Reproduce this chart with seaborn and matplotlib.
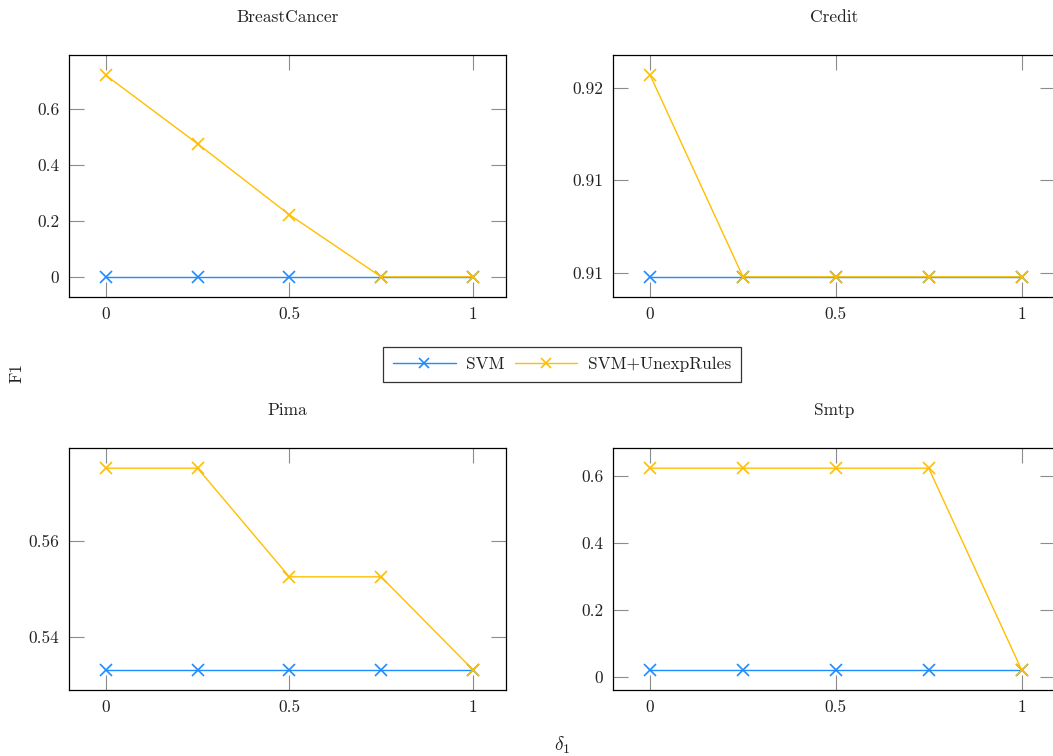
import matplotlib
matplotlib.use("Agg")
import matplotlib.pyplot as plt
import numpy as np
import pandas as pd
import seaborn as sns

# delta_1 values and F1 scores
delta = [0, 0.25, 0.5, 0.75, 1]
methods = ["SVM", "SVM+UnexpRules"]
datasets = ["BreastCancer", "Credit", "Pima", "Smtp"]

breast_svm = [0.0, 0.0, 0.0, 0.0, 0.0]
breast_rules = [0.721, 0.476, 0.222, 0.0, 0.0]
credit_svm = [0.90977, 0.90977, 0.90977, 0.90977, 0.90977]
credit_rules = [0.92067, 0.90977, 0.90977, 0.90977, 0.90977]
pima_svm = [0.53325, 0.53325, 0.53325, 0.53325, 0.53325]
pima_rules = [0.5751, 0.5751, 0.55255, 0.55255, 0.53325]
smtp_svm = [0.0208, 0.0208, 0.0208, 0.0208, 0.0208]
smtp_rules = [0.623, 0.623, 0.623, 0.623, 0.0208]

yticks = {
    "BreastCancer": ([0, 0.2, 0.4, 0.6], ["0", "0.2", "0.4", "0.6"]),
    "Credit": ([0.91, 0.915, 0.92], ["0.91", "0.91", "0.92"]),
    "Pima": ([0.54, 0.56], ["0.54", "0.56"]),
    "Smtp": ([0, 0.2, 0.4, 0.6], ["0", "0.2", "0.4", "0.6"]),
}
xticks = [0, 0.5, 1]
xticklabels = ["0", "0.5", "1"]

series = {
    "BreastCancer": (breast_svm, breast_rules),
    "Credit": (credit_svm, credit_rules),
    "Pima": (pima_svm, pima_rules),
    "Smtp": (smtp_svm, smtp_rules),
}
rows = []
for name, (svm, rules) in series.items():
    for d, a, b in zip(delta, svm, rules):
        rows.append((name, "SVM", d, a))
        rows.append((name, "SVM+UnexpRules", d, b))
df = pd.DataFrame(rows, columns=["dataset", "method", "delta", "f1"])

sns.set_theme(style="white")
plt.rcParams["font.family"] = ["cmr10", "DejaVu Serif"]
plt.rcParams["mathtext.fontset"] = "cm"
plt.rcParams["axes.unicode_minus"] = False
plt.rcParams["axes.formatter.use_mathtext"] = True

palette = {"SVM": "#1e8cff", "SVM+UnexpRules": "#ffbf00"}
FS = 12.5
TXT = "#222222"

W, H = 1053, 756
fig = plt.figure(figsize=(W / 100, H / 100), dpi=100)

# axes boxes in pixels: left, top, right, bottom
boxes = {
    "BreastCancer": (69, 55, 506, 297),
    "Credit": (613, 55, 1055, 297),
    "Pima": (69, 448, 506, 690),
    "Smtp": (613, 448, 1055, 690),
}

for name in datasets:
    l, t, r, b = boxes[name]
    ax = fig.add_axes([l / W, 1 - b / H, (r - l) / W, (b - t) / H])
    sub = df[df["dataset"] == name]
    for m in methods:
        part = sub[sub["method"] == m]
        sns.lineplot(data=part, x="delta", y="f1", color=palette[m],
                     marker="x", markersize=8, markeredgewidth=1.2,
                     markeredgecolor=palette[m], linewidth=1.0, ax=ax)
    vals = sub["f1"]
    lo, hi = vals.min(), vals.max()
    pad = 0.1 * (hi - lo)
    ax.set_ylim(lo - pad, hi + pad)
    ax.set_xlim(-0.1, 1.09)
    ax.set_xticks(xticks)
    ax.set_xticklabels(xticklabels)
    ax.set_yticks(yticks[name][0])
    ax.set_yticklabels(yticks[name][1])
    ax.tick_params(direction="in", length=10.5, width=0.8, color="#8c8c8c",
                   top=True, right=True, bottom=True, left=True,
                   labelsize=FS, pad=7, labelcolor=TXT)
    for s in ax.spines.values():
        s.set_color("black")
        s.set_linewidth(0.9)
        s.set_visible(True)
    ax.set_xlabel("")
    ax.set_ylabel("")
    ax.set_title(name, fontsize=FS, pad=24, color=TXT)

handles = [plt.Line2D([], [], color=palette[m], marker="x", markersize=7,
                      markeredgewidth=1.2, linewidth=1.0) for m in methods]
leg = fig.legend(handles, methods, loc="center", bbox_to_anchor=(562 / W, 1 - 364.5 / H),
                 ncol=2, frameon=True, fancybox=False, fontsize=FS,
                 handlelength=3.6, columnspacing=0.6, handletextpad=0.6,
                 borderpad=0.55)
leg.get_frame().set_edgecolor("black")
leg.get_frame().set_linewidth(0.9)
for txt in leg.get_texts():
    txt.set_color(TXT)

fig.text(17 / W, 1 - 373 / H, "F1", rotation=90, ha="center", va="center",
         fontsize=FS, color=TXT)
fig.text(562 / W, 1 - 745 / H, r"$\delta_1$", ha="center", va="center",
         fontsize=14, color=TXT)

fig.savefig("out.png", dpi=100)
